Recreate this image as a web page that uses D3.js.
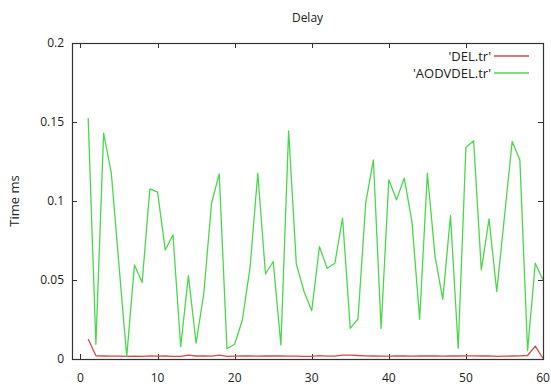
<!DOCTYPE html>
<html>
<head>
<meta charset="utf-8">
<script src="https://cdn.jsdelivr.net/npm/d3@7"></script>
<style>
  html, body { margin: 0; padding: 0; background: #fff; }
  svg { display: block; }
  text { font-family: "Open Sans", "DejaVu Sans", sans-serif; fill: #222; }
</style>
</head>
<body>
<svg id="chart" width="551" height="385"></svg>
<script>
// Sample index (simulation step) for both traces
const xValues = d3.range(1, 61);

// 'DEL.tr' delay trace
const delValues = [
  0.0127, 0.0020, 0.0019, 0.0018, 0.0018, 0.0016, 0.0018, 0.0017, 0.0020, 0.0018,
  0.0019, 0.0017, 0.0016, 0.0024, 0.0019, 0.0020, 0.0018, 0.0024, 0.0016, 0.0018,
  0.0020, 0.0019, 0.0018, 0.0020, 0.0019, 0.0019, 0.0018, 0.0018, 0.0017, 0.0017,
  0.0022, 0.0018, 0.0018, 0.0024, 0.0024, 0.0022, 0.0020, 0.0019, 0.0018, 0.0018,
  0.0019, 0.0020, 0.0018, 0.0020, 0.0019, 0.0020, 0.0018, 0.0020, 0.0019, 0.0020,
  0.0020, 0.0019, 0.0020, 0.0017, 0.0018, 0.0019, 0.0020, 0.0022, 0.0082, 0.0004
];

// 'AODVDEL.tr' delay trace
const aodvValues = [
  0.1525, 0.0093, 0.1430, 0.1176, 0.0590, 0.0015, 0.0595, 0.0484, 0.1077, 0.1056,
  0.0690, 0.0786, 0.0078, 0.0528, 0.0100, 0.0416, 0.0986, 0.1172, 0.0065, 0.0093,
  0.0247, 0.0580, 0.1176, 0.0538, 0.0617, 0.0089, 0.1444, 0.0602, 0.0427, 0.0306,
  0.0711, 0.0574, 0.0606, 0.0891, 0.0194, 0.0253, 0.0986, 0.1260, 0.0194, 0.1134,
  0.1007, 0.1145, 0.0870, 0.0251, 0.1176, 0.0648, 0.0378, 0.0908, 0.0068, 0.1339,
  0.1381, 0.0564, 0.0887, 0.0427, 0.0900, 0.1377, 0.1260, 0.0053, 0.0606, 0.0500
];

const xTicks = [0, 10, 20, 30, 40, 50, 60];
const yTicks = [0, 0.05, 0.1, 0.15, 0.2];
const yTickLabels = ["0", "0.05", "0.1", "0.15", "0.2"];

const seriesNames = ["'DEL.tr'", "'AODVDEL.tr'"];
const seriesColors = ["#d24b4b", "#4ad84a"];

const svg = d3.select("#chart");
const frame = { left: 72, right: 543, top: 43, bottom: 359 };

const x = d3.scaleLinear().domain([-1.1, 60]).range([frame.left, frame.right]);
const y = d3.scaleLinear().domain([0, 0.2]).range([frame.bottom, frame.top]);

// Title
svg.append("text")
  .attr("x", (frame.left + frame.right) / 2)
  .attr("y", 22)
  .attr("text-anchor", "middle")
  .attr("font-size", 12)
  .text("Delay");

// Y axis title
svg.append("text")
  .attr("transform", `translate(19,${(frame.top + frame.bottom) / 2}) rotate(-90)`)
  .attr("text-anchor", "middle")
  .attr("font-size", 13)
  .text("Time ms");

// Ticks drawn inward on all four sides
const tickLen = 5;
const tickG = svg.append("g").attr("stroke", "#333").attr("stroke-width", 1);
xTicks.forEach(t => {
  const px = Math.round(x(t)) + 0.5;
  tickG.append("line").attr("x1", px).attr("x2", px).attr("y1", frame.bottom).attr("y2", frame.bottom - tickLen);
  tickG.append("line").attr("x1", px).attr("x2", px).attr("y1", frame.top).attr("y2", frame.top + tickLen);
});
yTicks.forEach(t => {
  const py = Math.round(y(t)) + 0.5;
  tickG.append("line").attr("x1", frame.left).attr("x2", frame.left + tickLen).attr("y1", py).attr("y2", py);
  tickG.append("line").attr("x1", frame.right).attr("x2", frame.right - tickLen).attr("y1", py).attr("y2", py);
});

// Tick labels
svg.append("g").selectAll("text").data(xTicks).join("text")
  .attr("x", d => x(d))
  .attr("y", 382)
  .attr("text-anchor", "middle")
  .attr("font-size", 12)
  .text(d => d);

svg.append("g").selectAll("text").data(yTicks).join("text")
  .attr("x", 64)
  .attr("y", d => y(d) + 4)
  .attr("text-anchor", "end")
  .attr("font-size", 12)
  .text((d, i) => yTickLabels[i]);

// Series lines
const line = d3.line().x(d => x(d[0])).y(d => y(d[1]));
const seriesData = [delValues, aodvValues].map(vals => xValues.map((xv, i) => [xv, vals[i]]));

svg.append("clipPath").attr("id", "plotClip").append("rect")
  .attr("x", frame.left).attr("y", frame.top)
  .attr("width", frame.right - frame.left).attr("height", frame.bottom - frame.top);

svg.append("g").attr("clip-path", "url(#plotClip)")
  .selectAll("path").data(seriesData).join("path")
  .attr("d", line)
  .attr("fill", "none")
  .attr("stroke", (d, i) => seriesColors[i])
  .attr("stroke-width", 1.3)
  .attr("stroke-linejoin", "round");

// Plot frame
svg.append("rect")
  .attr("x", frame.left + 0.5).attr("y", frame.top + 0.5)
  .attr("width", frame.right - frame.left).attr("height", frame.bottom - frame.top)
  .attr("fill", "none").attr("stroke", "#333").attr("stroke-width", 1.2);

// Legend
const legend = svg.append("g");
seriesNames.forEach((name, i) => {
  const ly = 56 + i * 17;
  legend.append("text")
    .attr("x", 491).attr("y", ly + 4.5)
    .attr("text-anchor", "end")
    .attr("font-size", 13)
    .text(name);
  legend.append("line")
    .attr("x1", 494).attr("x2", 529)
    .attr("y1", ly).attr("y2", ly)
    .attr("stroke", seriesColors[i]).attr("stroke-width", 1.3);
});
</script>
</body>
</html>
